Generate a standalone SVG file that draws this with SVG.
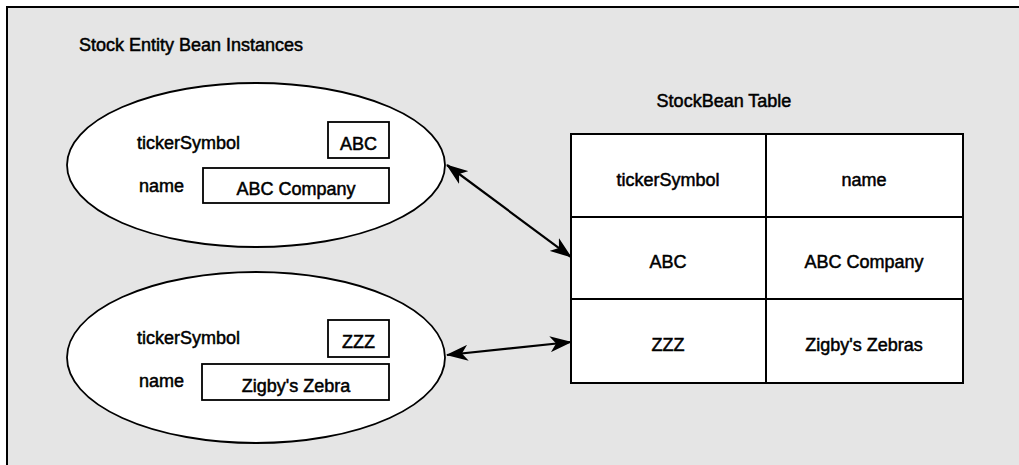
<svg xmlns="http://www.w3.org/2000/svg" width="1019" height="465" viewBox="0 0 1019 465">
<style>
text{font-family:"Liberation Sans Narrow","Liberation Sans",Arial,sans-serif;font-size:18px;fill:#000;stroke:#000;stroke-width:0.5;}
.c{text-anchor:middle;}
.shape{fill:#fff;stroke:#000;stroke-width:1.8;}
.cell{fill:#fff;stroke:#000;stroke-width:2;}
.conn{stroke:#000;stroke-width:2.2;fill:none;}
</style>
<defs>
<marker id="ah" viewBox="0 0 22 16" refX="21" refY="8" markerWidth="22" markerHeight="16" markerUnits="userSpaceOnUse" orient="auto-start-reverse">
<path d="M0,0 L22,8 L0,16 L6,8 z" fill="#000"/>
</marker>
</defs>
<rect x="7" y="7" width="1020" height="470" fill="#e5e5e5" stroke="#000" stroke-width="2"/>
<text x="79" y="51">Stock Entity Bean Instances</text>
<g id="bean1">
<ellipse class="shape" cx="256" cy="165" rx="189" ry="82"/>
<text x="137" y="149">tickerSymbol</text>
<rect class="shape" x="328" y="122" width="61" height="36"/>
<text class="c" x="358.5" y="150">ABC</text>
<text x="139" y="192">name</text>
<rect class="shape" x="203" y="168" width="186" height="35"/>
<text class="c" x="296" y="195">ABC Company</text>
</g>
<g id="bean2">
<ellipse class="shape" cx="256" cy="357.5" rx="189" ry="85.5"/>
<text x="137" y="344">tickerSymbol</text>
<rect class="shape" x="328" y="320" width="61" height="37"/>
<text class="c" x="358.5" y="348">ZZZ</text>
<text x="139" y="387">name</text>
<rect class="shape" x="202" y="364" width="187" height="36"/>
<text class="c" x="296" y="392">Zigby's Zebra</text>
</g>
<g id="table">
<text class="c" x="724" y="107">StockBean Table</text>
<rect class="cell" x="571" y="134" width="392" height="249"/>
<line class="cell" x1="766" y1="134" x2="766" y2="383"/>
<line class="cell" x1="571" y1="217" x2="963" y2="217"/>
<line class="cell" x1="571" y1="299" x2="963" y2="299"/>
<text class="c" x="668" y="186">tickerSymbol</text>
<text class="c" x="864" y="186">name</text>
<text class="c" x="668" y="268">ABC</text>
<text class="c" x="864" y="268">ABC Company</text>
<text class="c" x="668" y="351">ZZZ</text>
<text class="c" x="864" y="351">Zigby's Zebras</text>
</g>
<g id="connectors">
<line class="conn" x1="447" y1="165" x2="571" y2="257" marker-start="url(#ah)" marker-end="url(#ah)"/>
<line class="conn" x1="447" y1="355" x2="571" y2="342" marker-start="url(#ah)" marker-end="url(#ah)"/>
</g>
</svg>
